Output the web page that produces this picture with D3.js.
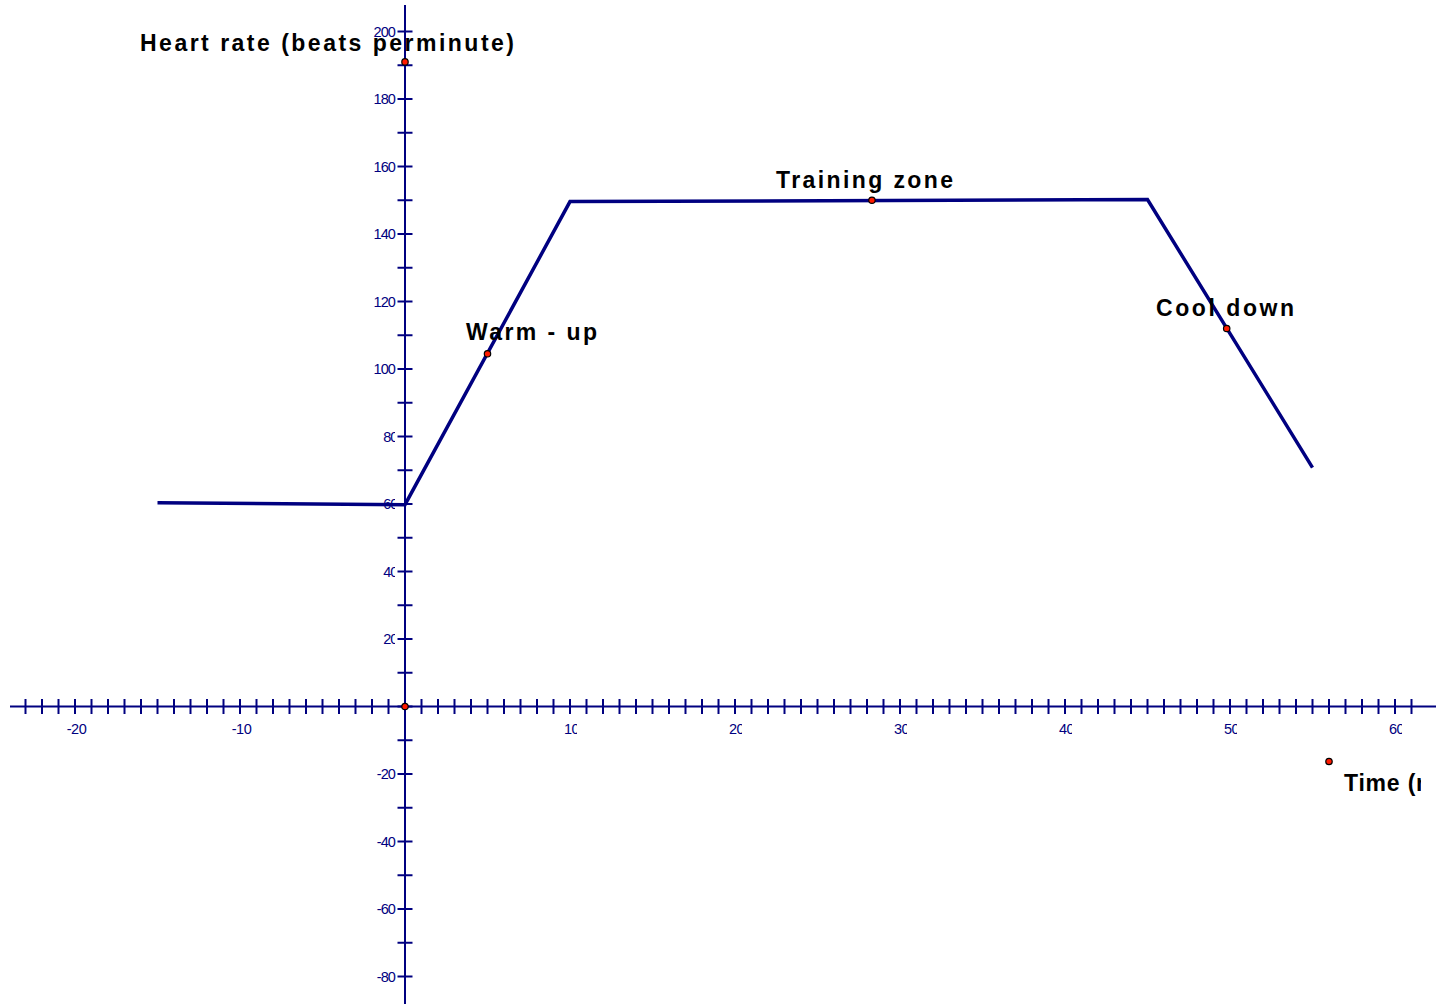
<!DOCTYPE html>
<html>
<head>
<meta charset="utf-8">
<script src="https://cdn.jsdelivr.net/npm/d3@7"></script>
<style>
  html, body { margin: 0; padding: 0; background: #fff; overflow: hidden; }
  svg { display: block; }
</style>
</head>
<body>
<svg id="chart" width="1436" height="1004"></svg>
<script>
// ---- data ----
const xTickValues = d3.range(-23, 62, 1);               // minor ticks every minute
const xLabelValues = [-20, -10, 10, 20, 30, 40, 50, 60];
const yTickValues = d3.range(-80, 211, 10);
const yLabelValues = [-80, -60, -40, -20, 20, 40, 60, 80, 100, 120, 140, 160, 180, 200];
const heartTime = [-15, 0, 10, 45, 55];
const heartRate = [60.4, 59.8, 149.6, 150.2, 70.8];
const pointTime = [0, 0, 5, 28.3, 49.8, 56];
const pointValue = [0, 191, 104.5, 150, 112, -16.3];
const yTitle = "Heart rate (beats perminute)";
const xTitle = "Time (minutes)";
const phaseLabels = ["Warm - up", "Training zone", "Cool down"];

// ---- scales ----
const x = d3.scaleLinear().domain([0, 10]).range([405, 570]);
const y = d3.scaleLinear().domain([0, 20]).range([706.5, 639]);

const svg = d3.select("#chart");
const navy = "#000080";
const defs = svg.append("defs");

// axes lines
svg.append("line").attr("x1", 10).attr("x2", 1436).attr("y1", y(0)).attr("y2", y(0))
  .attr("stroke", navy).attr("stroke-width", 2);
svg.append("line").attr("x1", x(0)).attr("x2", x(0)).attr("y1", 5).attr("y2", 1004)
  .attr("stroke", navy).attr("stroke-width", 2);

// x ticks
svg.append("g").selectAll("line").data(xTickValues).join("line")
  .attr("x1", d => x(d)).attr("x2", d => x(d))
  .attr("y1", y(0) - 7.5).attr("y2", y(0) + 7.5)
  .attr("stroke", navy).attr("stroke-width", 2);
// y ticks
svg.append("g").selectAll("line").data(yTickValues).join("line")
  .attr("x1", x(0) - 7.5).attr("x2", x(0) + 7.5)
  .attr("y1", d => y(d)).attr("y2", d => y(d))
  .attr("stroke", navy).attr("stroke-width", 2);

const tickFont = "'Liberation Sans', Arial, sans-serif";

// x labels (2-digit labels are clipped on the right as in the original)
const xl = svg.append("g");
xLabelValues.forEach((v, i) => {
  const t = xl.append("text")
    .attr("x", x(v) + 1.5).attr("y", 734)
    .attr("text-anchor", "middle")
    .attr("font-family", tickFont).attr("font-size", 14.5)
    .attr("letter-spacing", -0.5)
    .attr("fill", navy).text(v);
  if (String(v).length === 2) {
    const id = "cx" + i;
    defs.append("clipPath").attr("id", id).append("rect")
      .attr("x", x(v) - 20).attr("y", 715).attr("width", 27).attr("height", 30);
    t.attr("clip-path", `url(#${id})`);
  }
});

// y labels
const yl = svg.append("g");
yLabelValues.forEach((v, i) => {
  const two = String(v).length === 2;
  const t = yl.append("text")
    .attr("x", two ? 397.5 : 395).attr("y", y(v) + 5)
    .attr("text-anchor", "end")
    .attr("font-family", tickFont).attr("font-size", 14.5)
    .attr("letter-spacing", -0.9)
    .attr("fill", navy).text(v);
  if (two) {
    const id = "cy" + i;
    defs.append("clipPath").attr("id", id).append("rect")
      .attr("x", 360).attr("y", y(v) - 12).attr("width", 35).attr("height", 24);
    t.attr("clip-path", `url(#${id})`);
  }
});

// heart rate line
const lineData = heartTime.map((t, i) => [t, heartRate[i]]);
svg.append("path")
  .datum(lineData)
  .attr("d", d3.line().x(d => x(d[0])).y(d => y(d[1])))
  .attr("fill", "none").attr("stroke", navy).attr("stroke-width", 3.5)
  .attr("stroke-linejoin", "miter");

// text labels
const boldFont = "'Liberation Sans', Arial, sans-serif";
svg.append("text").attr("x", 140).attr("y", 51)
  .attr("font-family", boldFont).attr("font-weight", "bold").attr("font-size", 23)
  .attr("textLength", 374).attr("lengthAdjust", "spacing")
  .attr("fill", "#000").text(yTitle);

const phaseWidth = [131, 177, 138];
const phasePos = [[466, 340], [776, 188], [1156, 316]];
phaseLabels.forEach((s, i) => {
  svg.append("text")
    .attr("x", phasePos[i][0]).attr("y", phasePos[i][1])
    .attr("font-family", boldFont).attr("font-weight", "bold").attr("font-size", 23)
    .attr("textLength", phaseWidth[i]).attr("lengthAdjust", "spacing")
    .attr("fill", "#000").text(s);
});

defs.append("clipPath").attr("id", "cxt").append("rect")
  .attr("x", 1300).attr("y", 760).attr("width", 121).attr("height", 45);
svg.append("text").attr("x", 1344).attr("y", 791)
  .attr("font-family", boldFont).attr("font-weight", "bold").attr("font-size", 23)
  .attr("letter-spacing", 0.8)
  .attr("clip-path", "url(#cxt)")
  .attr("fill", "#000").text(xTitle);

// points
const pts = pointTime.map((t, i) => [t, pointValue[i]]);
svg.append("g").selectAll("circle").data(pts).join("circle")
  .attr("cx", d => x(d[0])).attr("cy", d => y(d[1]))
  .attr("r", 3.2)
  .attr("fill", "#ff1a00").attr("stroke", "#000").attr("stroke-width", 1.2);
</script>
</body>
</html>
